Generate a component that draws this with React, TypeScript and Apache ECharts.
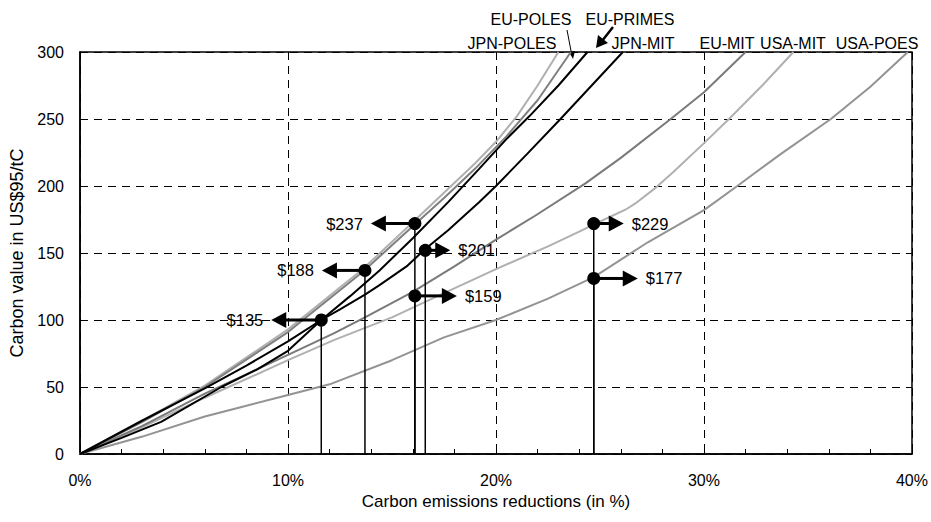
import { useEffect, useRef } from "react";
import * as echarts from "echarts";

// Marginal abatement cost curves: carbon value (US$95/tC) against % emissions reduction
const seriesNames = ["JPN-POLES", "EU-POLES", "EU-PRIMES", "JPN-MIT", "EU-MIT", "USA-MIT", "USA-POES"];

const jpnPoles = [[0, 0], [3, 25], [6, 51], [10, 93], [13.6, 138], [16, 173], [17.5, 195], [19, 217], [20, 233], [21, 252], [22, 275], [23, 300]];
const euPoles = [[0, 0], [3, 24], [6, 50], [10, 91], [13.6, 136], [16, 170], [17.5, 191], [19, 213], [20.5, 237], [22, 264], [23.6, 300]];
const euPrimes = [[0, 0], [3, 25], [6, 49], [8, 66], [10, 84], [11.6, 100], [13, 118], [14.4, 137], [16, 161], [17.7, 188], [19.2, 213], [20.5, 235], [21.6, 252], [23, 275], [24.4, 300]];
const jpnMit = [[0, 0], [2, 12], [3.9, 24], [6.8, 50], [8.5, 63], [10, 77], [11.6, 100], [12.5, 108], [13.7, 119], [14.4, 126], [15.7, 140], [16.6, 153], [17.7, 167], [19.2, 188], [20, 200], [21.5, 224], [23.1, 250], [24.6, 275], [26.1, 300]];
const euMit = [[0, 0], [3, 21], [6, 45], [10, 74], [12.2, 90], [13.7, 102], [16, 121], [18, 140], [20, 160], [21.9, 178], [24.3, 202], [26, 221], [28.4, 250], [30, 270], [32, 300]];
const usaMit = [[0, 0], [3, 20], [6, 42], [10, 70], [12.2, 85], [15, 102], [17.5, 120], [20, 138], [22.5, 155], [24, 166], [24.8, 172], [26.3, 183], [26.7, 187], [27.7, 199], [28.5, 210], [30, 232], [31.2, 250], [32.8, 275], [34.3, 300]];
const usaPoes = [[0, 0], [3, 13], [6, 28], [8, 36], [10, 44], [12, 52], [15, 70], [17.5, 87], [20, 100], [22.5, 116], [24.7, 132], [27.3, 158], [30, 182], [31.6, 200], [33.7, 224], [36.1, 250], [38, 274], [39.8, 300]];

const curves = [jpnPoles, euPoles, euPrimes, jpnMit, euMit, usaMit, usaPoes];

// Carbon values at each region's target reduction, with the price labels
const markerX = [11.6, 13.7, 16.1, 16.6, 16.1, 24.7, 24.7];
const markerY = [100, 137, 172, 152, 118, 172, 131];
const markerLabels = ["$135", "$188", "$237", "$201", "$159", "$229", "$177"];
const markerDirection = [-1, -1, -1, 1, 1, 1, 1];

const xTicks = [0, 10, 20, 30, 40];
const yTicks = [0, 50, 100, 150, 200, 250, 300];

// Styling
const curveColors = ["#b0b0b0", "#7f7f7f", "#000000", "#000000", "#7a7a7a", "#b0b0b0", "#939393"];
const curveZ = [2, 3, 5, 5, 3, 2, 2];
const arrowLengths = [50, 43, 44, 25, 42, 30, 44];
const nameAnchors = [
  [512, 43], [531, 19], [630, 19], [643, 43], [727, 43], [793, 43], [877, 43],
];
const FONT = "Liberation Sans, Arial, sans-serif";

export default function App() {
  const ref = useRef<HTMLDivElement>(null);

  useEffect(() => {
    if (!ref.current) return;
    const chart = echarts.init(ref.current, undefined, { renderer: "svg" });

    const lineSeries = curves.map((data, i) => ({
      name: seriesNames[i],
      type: "line",
      data,
      showSymbol: false,
      symbol: "none",
      smooth: false,
      z: curveZ[i],
      lineStyle: { color: curveColors[i], width: 2 },
      emphasis: { disabled: true },
    }));

    const markerData = markerX.map((x, i) => [x, markerY[i], markerDirection[i]]);

    const markerSeries = {
      type: "custom",
      z: 10,
      clip: false,
      data: markerData,
      encode: { x: 0, y: 1 },
      renderItem: (params: any, api: any) => {
        const i = params.dataIndex;
        const x = api.value(0);
        const y = api.value(1);
        const dir = api.value(2);
        const p = api.coord([x, y]);
        const base = api.coord([x, 0]);
        const len = arrowLengths[i];
        const head = 15;
        const half = 8;
        const tip = p[0] + dir * len;
        return {
          type: "group",
          children: [
            {
              type: "line",
              shape: { x1: p[0], y1: p[1], x2: base[0], y2: base[1] },
              style: { stroke: "#000", lineWidth: 1.5 },
            },
            {
              type: "line",
              shape: { x1: p[0], y1: p[1], x2: tip - dir * (head - 1), y2: p[1] },
              style: { stroke: "#000", lineWidth: 3 },
            },
            {
              type: "polygon",
              shape: {
                points: [
                  [tip, p[1]],
                  [tip - dir * head, p[1] - half],
                  [tip - dir * head, p[1] + half],
                ],
              },
              style: { fill: "#000" },
            },
            {
              type: "circle",
              shape: { cx: p[0], cy: p[1], r: 6.5 },
              style: { fill: "#000" },
            },
            {
              type: "text",
              x: tip + dir * 8,
              y: p[1],
              style: {
                text: markerLabels[i],
                fill: "#000",
                font: `16.5px ${FONT}`,
                align: dir < 0 ? "right" : "left",
                verticalAlign: "middle",
                textAlign: dir < 0 ? "right" : "left",
                textVerticalAlign: "middle",
              },
            },
          ],
        };
      },
    };

    const nameTexts = seriesNames.map((name, i) => ({
      type: "text",
      x: nameAnchors[i][0],
      y: nameAnchors[i][1],
      style: {
        text: name,
        fill: "#000",
        font: `16px ${FONT}`,
        align: "center",
        verticalAlign: "middle",
        textAlign: "center",
        textVerticalAlign: "middle",
      },
    }));

    const option = {
      animation: false,
      backgroundColor: "#fff",
      grid: {
        left: 80,
        right: 16,
        top: 52,
        bottom: 68,
        show: true,
        borderColor: "#000",
        borderWidth: 1.5,
      },
      xAxis: {
        type: "value",
        min: xTicks[0],
        max: xTicks[xTicks.length - 1],
        interval: xTicks[1] - xTicks[0],
        name: "Carbon emissions reductions (in %)",
        nameLocation: "middle",
        nameGap: 35,
        nameTextStyle: { color: "#000", fontSize: 17, fontFamily: FONT },
        axisLine: { show: true, lineStyle: { color: "#000", width: 1.5 } },
        axisTick: { show: true, inside: true, length: 5, lineStyle: { color: "#000" } },
        minorTick: { show: true, splitNumber: 5, length: 5, lineStyle: { color: "#000" } },
        axisLabel: {
          color: "#000",
          fontSize: 16,
          fontFamily: FONT,
          margin: 18,
          formatter: (v: number) => `${v}%`,
        },
        splitLine: { show: true, lineStyle: { color: "#000", width: 1, type: [8, 6] } },
      },
      yAxis: {
        type: "value",
        min: yTicks[0],
        max: yTicks[yTicks.length - 1],
        interval: yTicks[1] - yTicks[0],
        name: "Carbon value in US$95/tC",
        nameLocation: "middle",
        nameGap: 51,
        nameTextStyle: { color: "#000", fontSize: 18, fontFamily: FONT },
        axisLine: { show: true, lineStyle: { color: "#000", width: 1.5 } },
        axisTick: { show: false },
        axisLabel: { color: "#000", fontSize: 16, fontFamily: FONT, margin: 16 },
        splitLine: { show: true, lineStyle: { color: "#000", width: 1, type: [8, 6] } },
      },
      series: [...lineSeries, markerSeries],
      graphic: [
        ...nameTexts,
        // pointer from EU-POLES label to its curve
        {
          type: "line",
          shape: { x1: 567, y1: 30, x2: 572, y2: 56 },
          style: { stroke: "#000", lineWidth: 1 },
        },
        {
          type: "polygon",
          shape: { points: [[573, 59], [569, 52], [575, 51]] },
          style: { fill: "#000" },
        },
        // pointer from EU-PRIMES label to its curve
        {
          type: "line",
          shape: { x1: 613, y1: 27, x2: 602, y2: 41 },
          style: { stroke: "#000", lineWidth: 2.5 },
        },
        {
          type: "polygon",
          shape: { points: [[596, 48], [598, 35], [608, 43]] },
          style: { fill: "#000" },
        },
      ],
    };

    chart.setOption(option as any);
    return () => chart.dispose();
  }, []);

  return (
    <div
      ref={ref}
      style={{ position: "fixed", left: 0, top: 0, width: 931, height: 522 }}
    />
  );
}
